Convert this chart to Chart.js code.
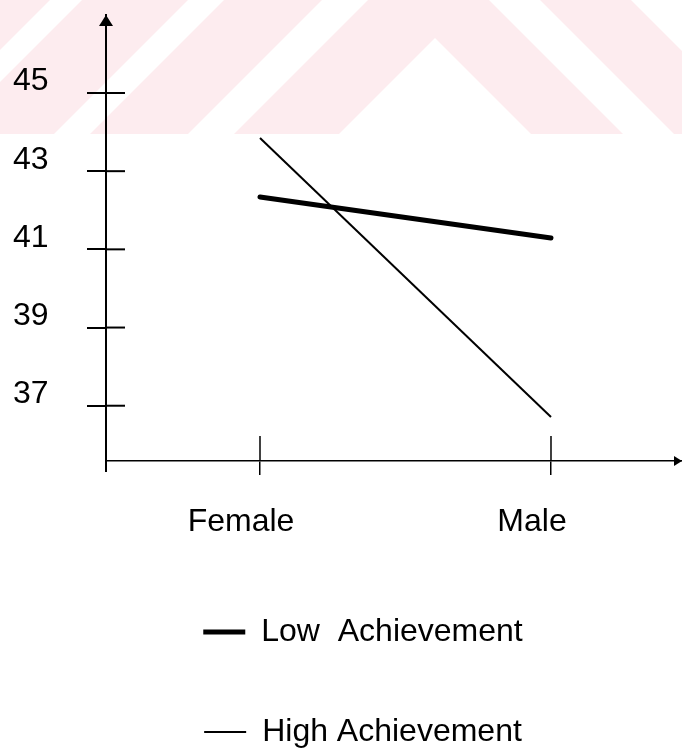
<!DOCTYPE html>
<html>
<head>
<meta charset="utf-8">
<script src="https://cdn.jsdelivr.net/npm/chart.js@4.4.1/dist/chart.umd.min.js"></script>
<style>
  html, body { margin: 0; padding: 0; background: #ffffff; }
  #wrap { width: 682px; height: 748px; position: relative; }
</style>
</head>
<body>
<div id="wrap"><canvas id="chart"></canvas></div>
<script>
// Mean scores by gender for the two achievement groups
const categories = ['Female', 'Male'];
const lowAchievement = [42.34, 41.29];
const highAchievement = [43.85, 36.71];
const yTickValues = [37, 39, 41, 43, 45];
const seriesNames = ['Low  Achievement', 'High Achievement'];

const FONT = { family: '"Liberation Sans", Arial, sans-serif', size: 32 };

function toPoints(values) {
  return values.map((v, i) => ({ x: i, y: v }));
}

// Light pink banner with diagonal white stripes across the top
const bannerPlugin = {
  id: 'banner',
  beforeDraw(chart) {
    const ctx = chart.ctx;
    const H = 134, W = chart.width;
    ctx.save();
    ctx.beginPath();
    ctx.rect(0, 0, W, H);
    ctx.clip();
    ctx.fillStyle = '#fdecef';
    ctx.fillRect(0, 0, W, H);
    ctx.fillStyle = '#ffffff';
    const poly = pts => {
      ctx.beginPath();
      ctx.moveTo(pts[0][0], pts[0][1]);
      for (let i = 1; i < pts.length; i++) ctx.lineTo(pts[i][0], pts[i][1]);
      ctx.closePath();
      ctx.fill();
    };
    [[50, 82], [188, 224], [322, 368]].forEach(([a, b]) =>
      poly([[a, 0], [b, 0], [b - H, H], [a - H, H]]));
    poly([[435, 38], [435 + (H - 38), H], [435 - (H - 38), H]]);
    poly([[489, 0], [540, 0], [540 + H, H], [489 + H, H]]);
    poly([[631, 0], [W + 200, 0], [W + 200, H], [631 + H, H]]);
    ctx.restore();
  }
};

// Axis arrows, axis overhang and the inner halves of the tick marks
const axisPlugin = {
  id: 'axisDecor',
  afterDraw(chart) {
    const ctx = chart.ctx;
    const xs = chart.scales.x, ys = chart.scales.y;
    const area = chart.chartArea;
    ctx.save();
    ctx.strokeStyle = '#000';
    ctx.fillStyle = '#000';
    ctx.lineCap = 'butt';
    // y axis overhang below the x axis
    ctx.lineWidth = 2;
    ctx.beginPath();
    ctx.moveTo(area.left, area.bottom);
    ctx.lineTo(area.left, area.bottom + 11);
    ctx.stroke();
    // arrow at top of y axis
    ctx.beginPath();
    ctx.moveTo(area.left, area.top);
    ctx.lineTo(area.left - 7, area.top + 11);
    ctx.lineTo(area.left + 7, area.top + 11);
    ctx.closePath();
    ctx.fill();
    // arrow at right of x axis
    ctx.beginPath();
    ctx.moveTo(area.right, area.bottom);
    ctx.lineTo(area.right - 8, area.bottom - 5);
    ctx.lineTo(area.right - 8, area.bottom + 5);
    ctx.closePath();
    ctx.fill();
    // inner halves of the y tick marks
    ctx.lineWidth = 2;
    ys.ticks.forEach(t => {
      const py = ys.getPixelForValue(t.value);
      ctx.beginPath();
      ctx.moveTo(area.left, py);
      ctx.lineTo(area.left + 19, py);
      ctx.stroke();
    });
    // upper parts of the x tick marks
    ctx.lineWidth = 1.5;
    xs.ticks.forEach(t => {
      const px = xs.getPixelForValue(t.value);
      ctx.beginPath();
      ctx.moveTo(px, area.bottom);
      ctx.lineTo(px, area.bottom - 25);
      ctx.stroke();
    });
    ctx.restore();
  }
};

new Chart(document.getElementById('chart'), {
  type: 'line',
  data: {
    datasets: [
      {
        label: seriesNames[0],
        data: toPoints(lowAchievement),
        borderColor: '#000',
        backgroundColor: '#000',
        borderWidth: 5,
        borderCapStyle: 'round',
        pointRadius: 0,
        fill: false
      },
      {
        label: seriesNames[1],
        data: toPoints(highAchievement),
        borderColor: '#000',
        backgroundColor: '#000',
        borderWidth: 2,
        borderCapStyle: 'butt',
        pointRadius: 0,
        fill: false
      }
    ]
  },
  options: {
    responsive: true,
    maintainAspectRatio: false,
    animation: false,
    devicePixelRatio: 1,
    layout: { padding: { left: 44, top: 15, right: 0, bottom: -10 } },
    plugins: {
      legend: {
        position: 'bottom',
        align: 'center',
        labels: {
          usePointStyle: true,
          pointStyle: 'line',
          pointStyleWidth: 42,
          padding: 68,
          color: '#000',
          font: FONT
        }
      },
      tooltip: { enabled: false }
    },
    scales: {
      x: {
        type: 'linear',
        min: -0.5292,
        max: 1.4502,
        afterBuildTicks: s => { s.ticks = categories.map((_, i) => ({ value: i })); },
        afterFit: s => { s.height = 87; s.paddingLeft = 0; s.paddingRight = 0; },
        grid: { drawOnChartArea: false, drawTicks: true, tickLength: 14, color: '#000', lineWidth: 1.5 },
        border: { display: true, color: '#000', width: 1.5 },
        ticks: {
          callback: v => categories[v],
          labelOffset: -19,
          padding: 28,
          color: '#000',
          font: FONT,
          maxRotation: 0,
          autoSkip: false
        }
      },
      y: {
        type: 'linear',
        min: 35.586,
        max: 46.995,
        afterBuildTicks: s => { s.ticks = yTickValues.map(v => ({ value: v })); },
        afterFit: s => { s.width = 62; s.paddingTop = 0; s.paddingBottom = 0; },
        grid: { drawOnChartArea: false, drawTicks: true, tickLength: 19, color: '#000', lineWidth: 2 },
        border: { display: true, color: '#000', width: 2 },
        ticks: {
          mirror: true,
          padding: -93,
          labelOffset: -11.5,
          color: '#000',
          font: FONT,
          autoSkip: false
        }
      }
    }
  },
  plugins: [bannerPlugin, axisPlugin]
});
</script>
</body>
</html>
